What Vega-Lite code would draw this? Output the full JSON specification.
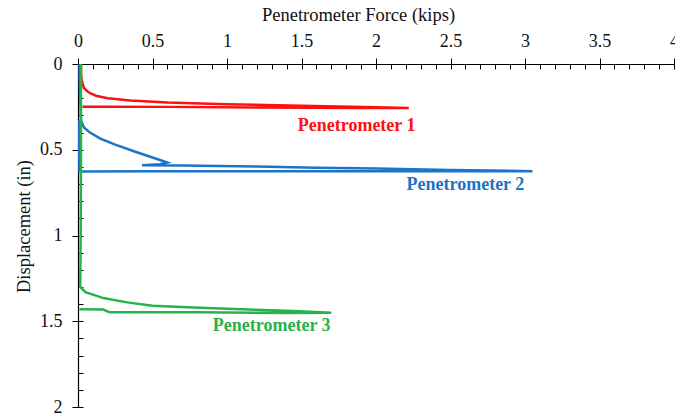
{
  "$schema": "https://vega.github.io/schema/vega-lite/v6.json",
  "width": 596,
  "height": 343,
  "autosize": {"type": "none"},
  "padding": {"left": 78, "top": 64, "right": 1, "bottom": 7},
  "background": "white",
  "config": {
    "view": {"stroke": null},
    "axis": {"grid": false, "domainColor": "#000", "tickColor": "#000", "labelColor": "#111", "titleColor": "#111", "labelFont": "Liberation Serif", "titleFont": "Liberation Serif", "labelFontSize": 18, "titleFontSize": 18.5, "titleFontWeight": "normal", "domainWidth": 1.2, "tickWidth": 1}
  },
  "datasets": {
    "curves": [
      {"s": "P1", "i": 0, "f": 0.02, "d": 0.0},
      {"s": "P1", "i": 1, "f": 0.02, "d": 0.05},
      {"s": "P1", "i": 2, "f": 0.025, "d": 0.1},
      {"s": "P1", "i": 3, "f": 0.04, "d": 0.14},
      {"s": "P1", "i": 4, "f": 0.07, "d": 0.165},
      {"s": "P1", "i": 5, "f": 0.12, "d": 0.185},
      {"s": "P1", "i": 6, "f": 0.2, "d": 0.2},
      {"s": "P1", "i": 7, "f": 0.35, "d": 0.213},
      {"s": "P1", "i": 8, "f": 0.6, "d": 0.225},
      {"s": "P1", "i": 9, "f": 1.0, "d": 0.235},
      {"s": "P1", "i": 10, "f": 1.5, "d": 0.243},
      {"s": "P1", "i": 11, "f": 2.0, "d": 0.252},
      {"s": "P1", "i": 12, "f": 2.22, "d": 0.257},
      {"s": "P1", "i": 13, "f": 1.9, "d": 0.256},
      {"s": "P1", "i": 14, "f": 1.2, "d": 0.254},
      {"s": "P1", "i": 15, "f": 0.6, "d": 0.25},
      {"s": "P1", "i": 16, "f": 0.2, "d": 0.249},
      {"s": "P1", "i": 17, "f": 0.03, "d": 0.249},
      {"s": "P2", "i": 0, "f": 0.01, "d": 0.0},
      {"s": "P2", "i": 1, "f": 0.015, "d": 0.2},
      {"s": "P2", "i": 2, "f": 0.02, "d": 0.33},
      {"s": "P2", "i": 3, "f": 0.04, "d": 0.37},
      {"s": "P2", "i": 4, "f": 0.08, "d": 0.4},
      {"s": "P2", "i": 5, "f": 0.15, "d": 0.435},
      {"s": "P2", "i": 6, "f": 0.25, "d": 0.47},
      {"s": "P2", "i": 7, "f": 0.38, "d": 0.51},
      {"s": "P2", "i": 8, "f": 0.5, "d": 0.545},
      {"s": "P2", "i": 9, "f": 0.6, "d": 0.575},
      {"s": "P2", "i": 10, "f": 0.55, "d": 0.585},
      {"s": "P2", "i": 11, "f": 0.43, "d": 0.59},
      {"s": "P2", "i": 12, "f": 0.7, "d": 0.592},
      {"s": "P2", "i": 13, "f": 1.2, "d": 0.598},
      {"s": "P2", "i": 14, "f": 1.6, "d": 0.605},
      {"s": "P2", "i": 15, "f": 2.0, "d": 0.61},
      {"s": "P2", "i": 16, "f": 2.5, "d": 0.618},
      {"s": "P2", "i": 17, "f": 3.05, "d": 0.625},
      {"s": "P2", "i": 18, "f": 2.5, "d": 0.626},
      {"s": "P2", "i": 19, "f": 1.5, "d": 0.626},
      {"s": "P2", "i": 20, "f": 0.5, "d": 0.626},
      {"s": "P2", "i": 21, "f": 0.01, "d": 0.627},
      {"s": "P2", "i": 22, "f": 0.005, "d": 0.33},
      {"s": "P3", "i": 0, "f": 0.02, "d": 0.0},
      {"s": "P3", "i": 1, "f": 0.02, "d": 0.5},
      {"s": "P3", "i": 2, "f": 0.018, "d": 1.0},
      {"s": "P3", "i": 3, "f": 0.015, "d": 1.3},
      {"s": "P3", "i": 4, "f": 0.05, "d": 1.33},
      {"s": "P3", "i": 5, "f": 0.1, "d": 1.345},
      {"s": "P3", "i": 6, "f": 0.17, "d": 1.365},
      {"s": "P3", "i": 7, "f": 0.33, "d": 1.39},
      {"s": "P3", "i": 8, "f": 0.5, "d": 1.41},
      {"s": "P3", "i": 9, "f": 0.77, "d": 1.42},
      {"s": "P3", "i": 10, "f": 1.1, "d": 1.43},
      {"s": "P3", "i": 11, "f": 1.45, "d": 1.44},
      {"s": "P3", "i": 12, "f": 1.7, "d": 1.45},
      {"s": "P3", "i": 13, "f": 1.4, "d": 1.452},
      {"s": "P3", "i": 14, "f": 0.8, "d": 1.448},
      {"s": "P3", "i": 15, "f": 0.21, "d": 1.447},
      {"s": "P3", "i": 16, "f": 0.17, "d": 1.432},
      {"s": "P3", "i": 17, "f": 0.01, "d": 1.43}
    ],
    "labels": [
      {"s": "P1", "t": "Penetrometer 1", "f": 1.87, "d": 0.36},
      {"s": "P2", "t": "Penetrometer 2", "f": 2.6, "d": 0.705},
      {"s": "P3", "t": "Penetrometer 3", "f": 1.3, "d": 1.53}
    ]
  },
  "resolve": {"axis": {"x": "independent", "y": "independent"}},
  "layer": [
    {
      "data": {"name": "curves"},
      "mark": {"type": "line", "strokeWidth": 2.5, "clip": true},
      "encoding": {
        "x": {
          "field": "f", "type": "quantitative",
          "scale": {"domain": [0, 4], "nice": false, "zero": false},
          "axis": {
            "orient": "top",
            "title": "Penetrometer  Force (kips)",
            "titleX": 280,
            "values": [0,0.5,1,1.5,2,2.5,3,3.5,4],
            "format": "~g",
            "tickSize": 6,
            "labelPadding": 8,
            "titlePadding": 8,
            "labelFlush": false,
            "labelOverlap": false,
            "labelBound": false
          }
        },
        "y": {
          "field": "d", "type": "quantitative",
          "scale": {"domain": [0, 2], "reverse": true, "nice": false},
          "axis": {
            "orient": "left",
            "title": "Displacement  (in)",
            "titleY": 162,
            "values": [0,0.5,1,1.5,2],
            "format": "~g",
            "tickSize": 6,
            "labelPadding": 10,
            "titlePadding": 6,
            "labelFlush": false,
            "labelOverlap": false
          }
        },
        "order": {"field": "i", "type": "quantitative"},
        "detail": {"field": "s"},
        "color": {
          "field": "s", "type": "nominal", "legend": null,
          "scale": {"domain": ["P1", "P2", "P3"], "range": ["#FF1010", "#1B74C8", "#27B24E"]}
        }
      }
    },
    {
      "data": {"name": "labels"},
      "mark": {"type": "text", "font": "Liberation Serif", "fontWeight": "bold", "fontSize": 18},
      "encoding": {
        "x": {
          "field": "f", "type": "quantitative",
          "axis": {
            "orient": "top", "title": null, "labels": false, "domain": false,
            "values": [0,0.1,0.2,0.3,0.4,0.5,0.6,0.7,0.8,0.9,1,1.1,1.2,1.3,1.4,1.5,1.6,1.7,1.8,1.9,2,2.1,2.2,2.3,2.4,2.5,2.6,2.7,2.8,2.9,3,3.1,3.2,3.3,3.4,3.5,3.6,3.7,3.8,3.9,4],
            "tickSize": -5
          }
        },
        "y": {
          "field": "d", "type": "quantitative",
          "axis": {
            "orient": "left", "title": null, "labels": false, "domain": false,
            "values": [0,0.1,0.2,0.3,0.4,0.5,0.6,0.7,0.8,0.9,1,1.1,1.2,1.3,1.4,1.5,1.6,1.7,1.8,1.9,2],
            "tickSize": -5
          }
        },
        "text": {"field": "t"},
        "color": {"field": "s", "type": "nominal", "legend": null}
      }
    }
  ]
}
